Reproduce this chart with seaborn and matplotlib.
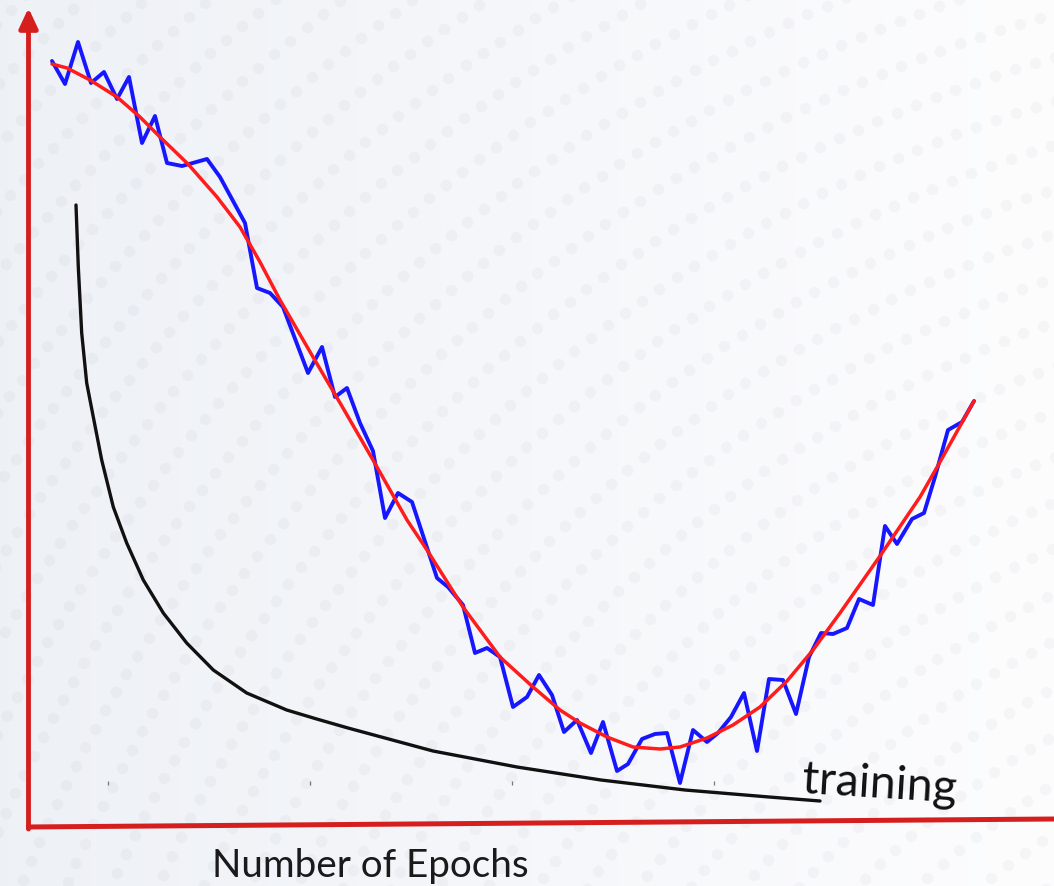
import numpy as np
import matplotlib
matplotlib.use("Agg")
import matplotlib.pyplot as plt
import seaborn as sns

# Validation loss per epoch (noisy)
val_epochs = [2.4, 3.7, 5.0, 6.3, 7.6, 8.9, 10.1, 11.4, 12.7, 13.9, 15.4, 17.9, 19.2,
              21.7, 22.9, 24.2, 25.5, 28.0, 29.4, 30.7, 31.9, 33.2, 34.5, 35.7, 37.0,
              38.4, 40.9, 42.0, 43.5, 44.7, 45.9, 47.2, 48.5, 49.9, 51.1, 52.4, 53.6,
              54.9, 56.3, 57.5, 58.9, 60.0, 61.4, 62.7, 63.9, 65.2, 66.5, 67.9, 69.0,
              70.3, 71.6, 72.9, 74.1, 75.5, 76.8, 78.1, 79.3, 80.5, 81.9, 83.1, 84.5,
              85.7, 86.9, 88.4, 89.6, 90.7, 92.0, 93.4, 94.6]
val_loss = [7.65, 7.42, 7.84, 7.43, 7.54, 7.27, 7.49, 6.83, 7.10, 6.63, 6.60, 6.67, 6.49,
            6.03, 5.38, 5.33, 5.19, 4.53, 4.79, 4.29, 4.38, 4.03, 3.75, 3.08, 3.33,
            3.24, 2.48, 2.39, 2.21, 1.73, 1.78, 1.69, 1.19, 1.29, 1.51, 1.31, 0.94,
            1.06, 0.73, 1.04, 0.55, 0.62, 0.87, 0.92, 0.93, 0.43, 0.96, 0.84, 0.93,
            1.09, 1.33, 0.75, 1.47, 1.46, 1.12, 1.69, 1.93, 1.92, 1.98, 2.27, 2.21,
            3.00, 2.82, 3.07, 3.13, 3.49, 3.96, 4.04, 4.25]

# Smoothed validation trend
trend_epochs = [2.4, 3.9, 6.2, 8.9, 11.2, 13.2, 16.0, 18.9, 21.2, 23.2, 25.2, 28.5,
                31.5, 34.5, 37.9, 39.9, 43.5, 47.2, 50.5, 53.2, 55.2, 57.9, 60.5,
                63.2, 65.2, 67.9, 70.5, 73.2, 75.9, 78.5, 81.2, 85.2, 89.2, 91.2, 94.6]
trend_loss = [7.62, 7.58, 7.46, 7.29, 7.09, 6.89, 6.62, 6.29, 5.99, 5.64, 5.26, 4.69,
              4.18, 3.66, 3.06, 2.76, 2.19, 1.69, 1.39, 1.16, 1.03, 0.89, 0.79,
              0.77, 0.79, 0.88, 1.01, 1.19, 1.45, 1.76, 2.13, 2.70, 3.29, 3.64, 4.25]

# Training loss
train_epochs = [4.8, 5.03, 5.37, 5.87, 6.53, 7.37, 8.53, 9.87, 11.53, 13.53, 15.87,
                18.53, 21.87, 25.87, 28.87, 32.0, 40.5, 48.9, 57.3, 65.7, 74.1, 79.2]
train_loss = [6.21, 5.59, 4.93, 4.43, 4.09, 3.66, 3.19, 2.83, 2.46, 2.13, 1.83,
              1.56, 1.33, 1.16, 1.07, 0.98, 0.75, 0.59, 0.46, 0.36, 0.29, 0.25]

tick_epochs = [8.0, 28.2, 48.4, 68.6]
tick_level = [0.43, 0.43, 0.43, 0.43]

sns.set_theme(style="white")
plt.rcParams['font.family'] = ['Lato', 'DejaVu Sans']

W, H = 1054, 886
fig = plt.figure(figsize=(W / 100, H / 100), dpi=100)

# Soft backdrop: light horizontal gradient with a faint dotted texture
bg = fig.add_axes([0, 0, 1, 1])
bg.set_xlim(0, W)
bg.set_ylim(H, 0)
bg.axis('off')
g = np.linspace(0, 1, 256)
c_left = np.array([0.933, 0.945, 0.965])
c_right = np.array([0.992, 0.992, 0.996])
img = c_left[None, None, :] * (1 - g[None, :, None]) + c_right[None, None, :] * g[None, :, None]
bg.imshow(img, extent=[0, W, H, 0], aspect='auto', zorder=0)
cx, cy = 1465, 1475
dx, dy = [], []
for r in np.arange(300, 2700, 42):
    n = int(2 * np.pi * r / 21)
    th = np.linspace(0, 2 * np.pi, n, endpoint=False)
    px = cx + r * np.cos(th)
    py = cy + r * np.sin(th)
    m = (px > -10) & (px < W + 10) & (py > -10) & (py < H + 10)
    dx.append(px[m])
    dy.append(py[m])
bg.scatter(np.concatenate(dx), np.concatenate(dy), s=70, color='#5a6678',
           alpha=0.045, linewidths=0, zorder=1)

# Main drawing area
ax = fig.add_axes([0, 0, 1, 1])
ax.patch.set_alpha(0)
ax.set_xlim(-2.8, 102.6)
ax.set_ylim(-0.60, 8.26)
ax.axis('off')

axis_red = '#d51f1f'
ax.annotate('', xy=(0.05, 8.18), xytext=(0.05, -0.03),
            arrowprops=dict(arrowstyle='-|>,head_length=0.6,head_width=0.28',
                            color=axis_red, lw=3.5, shrinkA=0, shrinkB=0,
                            mutation_scale=20))
ax.plot([-0.2, 102.6], [-0.01, 0.07], color=axis_red, lw=3.6, solid_capstyle='butt')

ax.scatter(tick_epochs, tick_level, marker='|', s=8, color='#777777', linewidths=0.9)

sns.lineplot(x=val_epochs, y=val_loss, sort=False, estimator=None,
             color='#1616ff', lw=2.8, ax=ax)
sns.lineplot(x=trend_epochs, y=trend_loss, sort=False, estimator=None,
             color='#ff1c1c', lw=2.5, ax=ax)
sns.lineplot(x=train_epochs, y=train_loss, sort=False, estimator=None,
             color='#111111', lw=2.4, ax=ax)

ax.text(77.3, 0.33, 'training', fontsize=33.5, rotation=-3.5, rotation_mode='anchor',
        ha='left', va='baseline', color='#111111')
fig.text(212 / W, 1 - 877 / H, 'Number of Epochs', fontsize=27.8,
         ha='left', va='baseline', color='#1a1a1a')

fig.savefig('out.png', dpi=100)
